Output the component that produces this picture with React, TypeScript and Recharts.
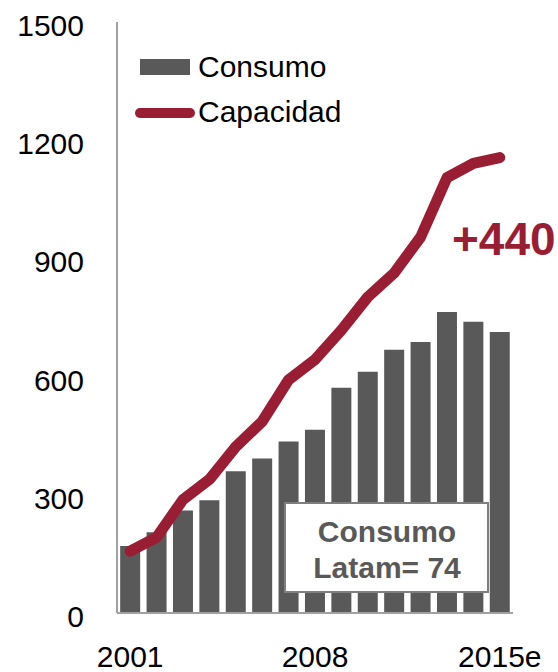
import React from "react";
import { ComposedChart, Bar, Line, XAxis, YAxis } from "recharts";

const years = ["2001","2002","2003","2004","2005","2006","2007","2008","2009","2010","2011","2012","2013","2014","2015e"];
const consumo = [170,205,260,286,360,392,435,465,572,612,668,688,764,739,713];
const capacidad = [157,192,288,339,422,486,592,643,718,802,863,954,1105,1141,1156];
const yTicks = [0,300,600,900,1200,1500];
const xTickLabels = ["2001","2008","2015e"];
const seriesNames = ["Consumo","Capacidad"];
const deltaLabel = "+440";
const boxLines = ["Consumo","Latam= 74"];

const data = years.map((y, i) => ({ year: y, consumo: consumo[i], capacidad: capacidad[i] }));

const FONT = "'Liberation Sans', Arial, sans-serif";
const BAR = "#595959";
const RED = "#9a1e33";
const AXIS = "#a0a0a0";

const XTick = (props: any) => {
  const { x, y, payload } = props;
  if (!xTickLabels.includes(payload.value)) return null;
  return (
    <text x={x} y={y + 54} textAnchor="middle" fontFamily={FONT} fontSize={30} fill="#000">
      {payload.value}
    </text>
  );
};

const YTick = (props: any) => {
  const { y, payload } = props;
  return (
    <text x={84} y={y + 14} textAnchor="end" fontFamily={FONT} fontSize={30} fill="#000">
      {payload.value}
    </text>
  );
};

export default function App() {
  return (
    <div style={{ position: "absolute", left: 0, top: 0, width: 558, height: 672, background: "#fff" }}>
      <ComposedChart
        width={558}
        height={672}
        data={data}
        margin={{ top: 22, right: 45, bottom: 0, left: 0 }}
        barCategoryGap="12%"
      >
        <XAxis
          dataKey="year"
          interval={0}
          tickLine={false}
          tickSize={0}
          tickMargin={0}
          axisLine={{ stroke: AXIS, strokeWidth: 2 }}
          tick={<XTick />}
          height={59}
        />
        <YAxis
          domain={[0, 1500]}
          ticks={yTicks}
          width={117}
          tickLine={false}
          tickSize={0}
          tickMargin={0}
          axisLine={{ stroke: AXIS, strokeWidth: 2 }}
          tick={<YTick />}
        />
        <Bar dataKey="consumo" name={seriesNames[0]} fill={BAR} isAnimationActive={false} />
        <Line
          dataKey="capacidad"
          name={seriesNames[1]}
          type="linear"
          stroke={RED}
          strokeWidth={11}
          strokeLinecap="round"
          strokeLinejoin="round"
          dot={false}
          activeDot={false}
          isAnimationActive={false}
        />
      </ComposedChart>
      <svg width={558} height={672} style={{ position: "absolute", left: 0, top: 0, pointerEvents: "none" }}>
        <rect x={140} y={59} width={50} height={16} fill={BAR} />
        <text x={198} y={77} fontFamily={FONT} fontSize={30} fill="#000">{seriesNames[0]}</text>
        <line x1={140} y1={113} x2={190} y2={113} stroke={RED} strokeWidth={10} strokeLinecap="round" />
        <text x={198} y={122} fontFamily={FONT} fontSize={30} fill="#000">{seriesNames[1]}</text>
        <text x={452} y={255} fontFamily={FONT} fontSize={46} fontWeight="bold" fill={RED}>{deltaLabel}</text>
        <rect x={285} y={503} width={203} height={89} fill="#fff" stroke="#7f7f7f" strokeWidth={2} />
        <text x={387} y={542} textAnchor="middle" fontFamily={FONT} fontSize={30} fontWeight="bold" fill={BAR}>{boxLines[0]}</text>
        <text x={387} y={578} textAnchor="middle" fontFamily={FONT} fontSize={30} fontWeight="bold" fill={BAR}>{boxLines[1]}</text>
      </svg>
    </div>
  );
}
